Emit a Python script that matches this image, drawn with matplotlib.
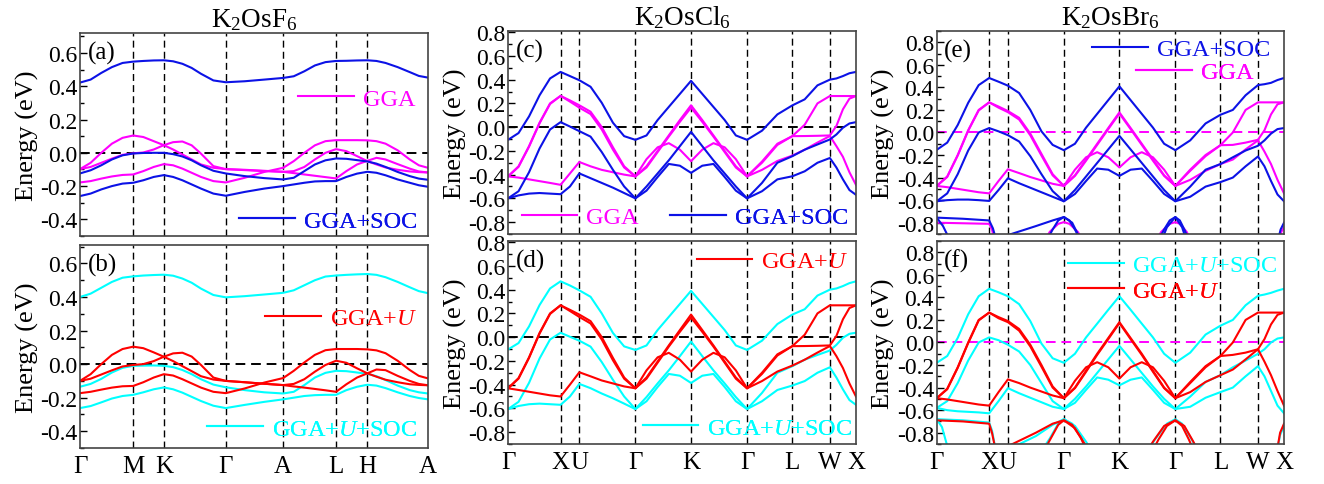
import numpy as np
import matplotlib
matplotlib.use("Agg")
import matplotlib.pyplot as plt
from matplotlib.lines import Line2D
from matplotlib.ticker import MultipleLocator, FormatStrFormatter

plt.rcParams['font.family'] = 'Liberation Serif'
plt.rcParams['mathtext.fontset'] = 'custom'
plt.rcParams['mathtext.rm'] = 'Liberation Serif'
plt.rcParams['mathtext.it'] = 'Liberation Serif:italic'
plt.rcParams['axes.unicode_minus'] = False

# caminos en la zona de Brillouin (posicion de cada punto de alta simetria)
hex_ticks = [0, 0.153, 0.241, 0.419, 0.584, 0.736, 0.826, 1.0]
hex_labels = ['Γ', 'M', 'K', 'Γ', 'A', 'L', 'H', 'A']
fcc_ticks = [0, 0.151, 0.205, 0.366, 0.526, 0.687, 0.817, 0.925, 1.0]
fcc_labels = ['Γ', 'X', 'U', 'Γ', 'K', 'Γ', 'L', 'W', 'X']

# puntos leidos sobre el camino (indice de segmento + fraccion)
s_hex = [0, .2, .4, .6, .8, 1, 1.33, 1.67, 2, 2.15, 2.3, 2.45, 2.6, 2.8, 3,
         3.33, 3.67, 4, 4.2, 4.4, 4.6, 4.8, 5, 5.33, 5.67, 6,
         6.15, 6.3, 6.5, 6.7, 6.85, 7]
s_fcc = [0, .2, .4, .6, .8, 1, 1.5, 2, 2.2, 2.4, 2.6, 2.8, 3,
         3.2, 3.4, 3.6, 3.8, 4, 4.2, 4.4, 4.6, 4.8, 5,
         5.33, 5.67, 6, 6.33, 6.67, 7, 7.25, 7.5, 7.75, 8]

# (a) K2OsF6 GGA+SOC y GGA
a_soc1 = [0.422, 0.44, 0.48, 0.515, 0.54, 0.548, 0.552, 0.555, 0.556, 0.55, 0.535, 0.51, 0.475, 0.435, 0.424,
          0.43, 0.44, 0.45, 0.46, 0.49, 0.525, 0.545, 0.552, 0.553, 0.555, 0.556, 0.552, 0.54, 0.515, 0.485, 0.462, 0.452]
a_soc2 = [-0.124, -0.105, -0.075, -0.04, -0.015, -0.004, -0.001, 0.0, 0.0, -0.008, -0.022, -0.045, -0.075, -0.108, -0.124,
          -0.14, -0.152, -0.16, -0.15, -0.11, -0.07, -0.045, -0.034, -0.036, -0.044, -0.052, -0.065, -0.085, -0.115, -0.14, -0.155, -0.162]
a_soc3 = [-0.26, -0.245, -0.22, -0.2, -0.185, -0.18, -0.165, -0.145, -0.134, -0.145, -0.165, -0.19, -0.215, -0.245, -0.258,
          -0.235, -0.215, -0.2, -0.19, -0.18, -0.172, -0.17, -0.17, -0.145, -0.125, -0.114, -0.12, -0.135, -0.16, -0.18, -0.195, -0.204]
a_gga1 = [-0.098, -0.06, 0.0, 0.055, 0.09, 0.104, 0.095, 0.07, 0.046, 0.02, -0.01, -0.04, -0.07, -0.09, -0.098,
          -0.104, -0.11, -0.114, -0.11, -0.085, -0.04, 0.0, 0.022, 0.01, -0.02, -0.05, -0.07, -0.088, -0.102, -0.112, -0.116, -0.118]
a_gga2 = [-0.098, -0.085, -0.06, -0.035, -0.012, -0.003, 0.002, 0.02, 0.046, 0.064, 0.068, 0.045, -0.005, -0.08, -0.098,
          -0.102, -0.108, -0.114, -0.122, -0.13, -0.138, -0.146, -0.154, -0.11, -0.07, -0.048, -0.03, -0.04, -0.068, -0.095, -0.112, -0.118]
a_gga3 = [-0.178, -0.17, -0.155, -0.142, -0.133, -0.13, -0.11, -0.085, -0.068, -0.075, -0.095, -0.12, -0.145, -0.17, -0.178,
          -0.15, -0.115, -0.09, -0.05, 0.0, 0.045, 0.07, 0.076, 0.076, 0.076, 0.075, 0.07, 0.055, 0.015, -0.04, -0.075, -0.09]

# (b) K2OsF6 GGA+U+SOC y GGA+U
b_soc1 = [0.4, 0.42, 0.455, 0.49, 0.515, 0.523, 0.528, 0.531, 0.533, 0.527, 0.51, 0.485, 0.45, 0.412, 0.398,
          0.405, 0.415, 0.425, 0.44, 0.47, 0.5, 0.522, 0.528, 0.532, 0.535, 0.537, 0.532, 0.518, 0.49, 0.458, 0.435, 0.423]
b_soc2 = [-0.135, -0.118, -0.088, -0.05, -0.022, -0.01, -0.009, -0.008, -0.01, -0.018, -0.035, -0.06, -0.09, -0.122, -0.138,
          -0.155, -0.168, -0.175, -0.165, -0.125, -0.08, -0.052, -0.04, -0.042, -0.05, -0.058, -0.072, -0.095, -0.128, -0.155, -0.168, -0.175]
b_soc3 = [-0.262, -0.25, -0.228, -0.205, -0.19, -0.183, -0.168, -0.15, -0.139, -0.15, -0.17, -0.195, -0.22, -0.248, -0.262,
          -0.243, -0.225, -0.21, -0.2, -0.19, -0.185, -0.183, -0.183, -0.155, -0.135, -0.123, -0.128, -0.143, -0.168, -0.19, -0.202, -0.21]
b_u1 = [-0.1, -0.06, 0.0, 0.055, 0.09, 0.104, 0.095, 0.07, 0.044, 0.018, -0.012, -0.042, -0.072, -0.092, -0.1,
        -0.108, -0.117, -0.125, -0.118, -0.09, -0.045, -0.005, 0.02, 0.008, -0.025, -0.055, -0.075, -0.093, -0.108, -0.12, -0.124, -0.126]
b_u2 = [-0.1, -0.087, -0.062, -0.037, -0.014, -0.005, 0.0, 0.018, 0.044, 0.064, 0.068, 0.045, -0.005, -0.08, -0.1,
        -0.108, -0.117, -0.125, -0.133, -0.14, -0.148, -0.156, -0.165, -0.12, -0.08, -0.055, -0.032, -0.036, -0.07, -0.1, -0.118, -0.126]
b_u3 = [-0.173, -0.165, -0.152, -0.14, -0.132, -0.13, -0.108, -0.08, -0.06, -0.068, -0.09, -0.115, -0.14, -0.165, -0.173,
        -0.145, -0.11, -0.083, -0.04, 0.01, 0.055, 0.083, 0.09, 0.09, 0.09, 0.088, 0.082, 0.065, 0.02, -0.035, -0.07, -0.085]

# (c) K2OsCl6 GGA+SOC y GGA
c_soc1 = [-0.107, -0.05, 0.09, 0.268, 0.41, 0.465, 0.43, 0.395, 0.34, 0.205, 0.037, -0.076, -0.107,
          -0.07, 0.06, 0.17, 0.28, 0.39, 0.28, 0.17, 0.06, -0.07, -0.107,
          -0.03, 0.107, 0.183, 0.234, 0.352, 0.4, 0.41, 0.43, 0.454, 0.465]
c_soc2 = [-0.6, -0.54, -0.38, -0.18, -0.02, 0.042, 0.005, -0.034, -0.08, -0.21, -0.36, -0.5, -0.6,
          -0.5, -0.39, -0.28, -0.16, -0.04, -0.16, -0.28, -0.39, -0.5, -0.6,
          -0.47, -0.3, -0.245, -0.19, -0.146, -0.104, -0.062, -0.005, 0.031, 0.042]
c_soc3 = [-0.6, -0.575, -0.56, -0.555, -0.56, -0.565, -0.5, -0.39, -0.43, -0.47, -0.51, -0.555, -0.6,
          -0.535, -0.42, -0.31, -0.325, -0.385, -0.325, -0.31, -0.42, -0.535, -0.6,
          -0.54, -0.44, -0.414, -0.372, -0.3, -0.26, -0.34, -0.44, -0.53, -0.57]
c_gga1 = [-0.415, -0.33, -0.16, 0.037, 0.2, 0.263, 0.225, 0.184, 0.13, 0.0, -0.17, -0.33, -0.415,
          -0.33, -0.2, -0.07, 0.06, 0.184, 0.06, -0.07, -0.2, -0.33, -0.415,
          -0.29, -0.14, -0.076, 0.02, 0.2, 0.262, 0.262, 0.262, 0.262, 0.262]
c_gga2 = [-0.415, -0.335, -0.165, 0.032, 0.195, 0.263, 0.215, 0.164, 0.11, -0.02, -0.19, -0.34, -0.415,
          -0.34, -0.21, -0.08, 0.045, 0.164, 0.045, -0.08, -0.21, -0.34, -0.415,
          -0.3, -0.15, -0.076, -0.075, -0.073, -0.07, 0.01, 0.15, 0.24, 0.262]
c_gga3 = [-0.415, -0.425, -0.44, -0.455, -0.47, -0.486, -0.39, -0.294, -0.33, -0.36, -0.38, -0.4, -0.415,
          -0.27, -0.17, -0.135, -0.19, -0.287, -0.19, -0.135, -0.17, -0.27, -0.415,
          -0.36, -0.285, -0.24, -0.19, -0.13, -0.075, -0.16, -0.25, -0.38, -0.486]

# (d) K2OsCl6 GGA+U+SOC y GGA+U
d_soc1 = [-0.104, -0.05, 0.09, 0.27, 0.41, 0.47, 0.435, 0.394, 0.34, 0.2, 0.035, -0.078, -0.108,
          -0.07, 0.06, 0.17, 0.28, 0.39, 0.28, 0.17, 0.06, -0.07, -0.108,
          -0.03, 0.11, 0.19, 0.235, 0.35, 0.4, 0.41, 0.43, 0.455, 0.47]
d_soc2 = [-0.606, -0.545, -0.385, -0.18, -0.02, 0.037, 0.003, -0.03, -0.08, -0.21, -0.36, -0.5, -0.606,
          -0.505, -0.39, -0.28, -0.16, -0.037, -0.16, -0.28, -0.39, -0.505, -0.606,
          -0.47, -0.3, -0.245, -0.19, -0.15, -0.113, -0.065, -0.005, 0.028, 0.037]
d_soc3 = [-0.606, -0.58, -0.565, -0.56, -0.565, -0.57, -0.5, -0.394, -0.43, -0.475, -0.515, -0.56, -0.606,
          -0.54, -0.42, -0.31, -0.325, -0.386, -0.325, -0.31, -0.42, -0.54, -0.606,
          -0.54, -0.445, -0.408, -0.37, -0.3, -0.254, -0.34, -0.44, -0.53, -0.57]
d_u1 = [-0.431, -0.345, -0.17, 0.035, 0.2, 0.268, 0.23, 0.19, 0.135, 0.0, -0.175, -0.34, -0.431,
        -0.34, -0.205, -0.07, 0.06, 0.19, 0.06, -0.07, -0.205, -0.34, -0.431,
        -0.3, -0.145, -0.076, 0.02, 0.2, 0.268, 0.268, 0.268, 0.268, 0.268]
d_u2 = [-0.431, -0.35, -0.175, 0.03, 0.195, 0.268, 0.22, 0.17, 0.115, -0.02, -0.195, -0.35, -0.431,
        -0.35, -0.215, -0.08, 0.045, 0.165, 0.045, -0.08, -0.215, -0.35, -0.431,
        -0.31, -0.155, -0.076, -0.075, -0.073, -0.07, 0.01, 0.15, 0.245, 0.268]
d_u3 = [-0.431, -0.445, -0.46, -0.475, -0.49, -0.5, -0.4, -0.296, -0.33, -0.365, -0.39, -0.415, -0.431,
        -0.28, -0.17, -0.132, -0.19, -0.29, -0.19, -0.132, -0.17, -0.28, -0.431,
        -0.37, -0.29, -0.24, -0.19, -0.13, -0.075, -0.16, -0.26, -0.39, -0.5]

# (e) K2OsBr6 GGA+SOC y GGA
e_soc1 = [-0.154, -0.09, 0.066, 0.263, 0.42, 0.483, 0.45, 0.415, 0.35, 0.2, 0.01, -0.11, -0.157,
          -0.1, 0.043, 0.165, 0.287, 0.409, 0.287, 0.165, 0.043, -0.1, -0.157,
          -0.07, 0.08, 0.157, 0.2, 0.33, 0.42, 0.428, 0.44, 0.465, 0.483]
e_soc2 = [-0.61, -0.54, -0.37, -0.16, 0.0, 0.039, 0.01, -0.024, -0.08, -0.21, -0.37, -0.52, -0.61,
          -0.51, -0.39, -0.27, -0.15, -0.03, -0.15, -0.27, -0.39, -0.51, -0.61,
          -0.48, -0.33, -0.28, -0.22, -0.16, -0.118, -0.07, -0.01, 0.03, 0.039]
e_soc3 = [-0.61, -0.6, -0.595, -0.595, -0.6, -0.607, -0.51, -0.406, -0.45, -0.49, -0.53, -0.57, -0.61,
          -0.545, -0.43, -0.32, -0.33, -0.385, -0.33, -0.32, -0.43, -0.545, -0.61,
          -0.57, -0.48, -0.44, -0.4, -0.3, -0.213, -0.3, -0.43, -0.55, -0.61]
e_gga1 = [-0.474, -0.39, -0.2, 0.02, 0.2, 0.267, 0.23, 0.19, 0.13, -0.01, -0.19, -0.37, -0.474,
          -0.38, -0.24, -0.1, 0.04, 0.178, 0.04, -0.1, -0.24, -0.38, -0.474,
          -0.33, -0.2, -0.113, 0.0, 0.2, 0.267, 0.267, 0.267, 0.267, 0.267]
e_gga2 = [-0.474, -0.395, -0.205, 0.015, 0.195, 0.267, 0.22, 0.18, 0.115, -0.025, -0.205, -0.38, -0.474,
          -0.385, -0.25, -0.11, 0.03, 0.168, 0.03, -0.11, -0.25, -0.385, -0.474,
          -0.34, -0.21, -0.113, -0.11, -0.09, -0.065, 0.02, 0.16, 0.25, 0.267]
e_gga3 = [-0.474, -0.485, -0.5, -0.515, -0.53, -0.54, -0.43, -0.326, -0.36, -0.395, -0.425, -0.455, -0.474,
          -0.33, -0.22, -0.175, -0.22, -0.31, -0.22, -0.175, -0.22, -0.33, -0.474,
          -0.42, -0.34, -0.28, -0.24, -0.15, -0.07, -0.17, -0.28, -0.42, -0.54]

# (f) K2OsBr6 GGA+U+SOC y GGA+U
f_soc1 = [-0.18, -0.12, 0.04, 0.25, 0.41, 0.476, 0.445, 0.41, 0.34, 0.19, -0.01, -0.14, -0.18,
          -0.1, 0.045, 0.167, 0.29, 0.41, 0.29, 0.167, 0.045, -0.1, -0.18,
          -0.09, 0.07, 0.149, 0.2, 0.33, 0.414, 0.425, 0.44, 0.46, 0.476]
f_soc2 = [-0.58, -0.52, -0.36, -0.16, 0.0, 0.045, 0.02, -0.02, -0.08, -0.2, -0.36, -0.52, -0.59,
          -0.5, -0.39, -0.27, -0.15, -0.03, -0.15, -0.27, -0.39, -0.5, -0.59,
          -0.48, -0.35, -0.29, -0.22, -0.16, -0.1, -0.06, 0.0, 0.035, 0.045]
f_soc3 = [-0.58, -0.6, -0.61, -0.615, -0.62, -0.628, -0.52, -0.405, -0.45, -0.49, -0.53, -0.57, -0.59,
          -0.535, -0.42, -0.31, -0.33, -0.38, -0.33, -0.31, -0.42, -0.535, -0.59,
          -0.57, -0.49, -0.44, -0.4, -0.3, -0.21, -0.3, -0.43, -0.56, -0.628]
f_u1 = [-0.494, -0.41, -0.22, 0.0, 0.2, 0.265, 0.225, 0.19, 0.12, -0.02, -0.2, -0.39, -0.494,
        -0.4, -0.25, -0.1, 0.04, 0.18, 0.04, -0.1, -0.25, -0.4, -0.494,
        -0.35, -0.21, -0.12, 0.0, 0.2, 0.265, 0.265, 0.265, 0.265, 0.265]
f_u2 = [-0.494, -0.415, -0.225, -0.005, 0.195, 0.265, 0.215, 0.18, 0.105, -0.035, -0.215, -0.4, -0.494,
        -0.405, -0.26, -0.11, 0.03, 0.172, 0.03, -0.11, -0.26, -0.405, -0.494,
        -0.36, -0.22, -0.12, -0.11, -0.09, -0.06, 0.03, 0.16, 0.245, 0.265]
f_u3 = [-0.494, -0.505, -0.52, -0.535, -0.55, -0.56, -0.44, -0.327, -0.36, -0.4, -0.435, -0.47, -0.494,
        -0.34, -0.22, -0.175, -0.22, -0.32, -0.22, -0.175, -0.22, -0.34, -0.494,
        -0.44, -0.35, -0.29, -0.24, -0.15, -0.06, -0.17, -0.29, -0.43, -0.56]

# bandas bajas de K2OsBr6 (solo se ve el borde superior), (s, E)
e_low_soc = [([0, 0.5, 1.0, 1.2, 1.45], [-0.755, -0.765, -0.78, -0.85, -1.0]),
             ([0, 0.12, 0.3], [-0.755, -0.83, -1.0]),
             ([2.0, 2.5, 2.8, 3.0, 3.1, 3.2, 3.35], [-0.91, -0.83, -0.78, -0.75, -0.78, -0.86, -1.0]),
             ([2.65, 2.8, 2.9, 3.0, 3.15, 3.3], [-1.0, -0.86, -0.78, -0.75, -0.8, -0.95]),
             ([4.65, 4.8, 4.9, 5.0, 5.1, 5.2, 5.35], [-1.0, -0.86, -0.78, -0.75, -0.78, -0.86, -1.0]),
             ([4.72, 4.85, 5.0, 5.15, 5.28], [-1.0, -0.84, -0.75, -0.84, -1.0]),
             ([7.72, 7.87, 8.0], [-1.0, -0.86, -0.8])]
e_low_gga = [([0, 0.5, 1.0, 1.15, 1.35], [-0.8, -0.805, -0.81, -0.86, -1.0]),
             ([2.6, 2.75, 2.9, 3.0, 3.1, 3.25, 3.4], [-1.0, -0.88, -0.81, -0.795, -0.81, -0.88, -1.0]),
             ([4.6, 4.75, 4.9, 5.0, 5.1, 5.25, 5.4], [-1.0, -0.88, -0.81, -0.795, -0.81, -0.88, -1.0]),
             ([7.75, 7.9, 8.0], [-1.0, -0.88, -0.84])]
f_low_soc = [([0, 0.5, 1.0, 1.15, 1.4], [-0.68, -0.69, -0.71, -0.78, -1.0]),
             ([0, 0.1, 0.25], [-0.68, -0.75, -1.0]),
             ([2.0, 2.5, 2.8, 3.0, 3.15, 3.3, 3.45], [-0.95, -0.83, -0.73, -0.68, -0.72, -0.82, -1.0]),
             ([2.55, 2.75, 2.9, 3.0, 3.2, 3.4, 3.55], [-1.0, -0.85, -0.72, -0.68, -0.74, -0.88, -1.0]),
             ([4.45, 4.65, 4.85, 5.0, 5.15, 5.35, 5.55], [-1.0, -0.85, -0.72, -0.68, -0.72, -0.85, -1.0]),
             ([7.7, 7.85, 8.0], [-1.0, -0.82, -0.74])]
f_low_u = [([0, 0.5, 1.0, 1.15, 1.4], [-0.69, -0.7, -0.72, -0.8, -1.0]),
           ([2.0, 2.5, 2.8, 3.0, 3.15, 3.3, 3.45], [-0.92, -0.8, -0.72, -0.69, -0.73, -0.84, -1.0]),
           ([2.6, 2.8, 2.9, 3.0, 3.2, 3.35, 3.5], [-1.0, -0.82, -0.73, -0.69, -0.76, -0.88, -1.0]),
           ([4.45, 4.6, 4.8, 5.0, 5.2, 5.4, 5.55], [-1.0, -0.88, -0.74, -0.69, -0.74, -0.88, -1.0]),
           ([4.55, 4.7, 4.85, 5.0, 5.15, 5.3, 5.45], [-1.0, -0.86, -0.74, -0.69, -0.74, -0.86, -1.0]),
           ([7.7, 7.85, 8.0], [-1.0, -0.8, -0.72])]

azul, rosa, rojo, cian = '#0c12e6', '#ff00ff', '#ff0000', '#00ffff'


def kdist(s, ticks):
    # pasa de indice de segmento a distancia sobre el camino
    return np.interp(s, np.arange(len(ticks)), ticks)


def bandas(ax, s, lista, ticks, color):
    for e in lista:
        ax.plot(kdist(s, ticks), e, color=color, lw=1.5)


def bajas(ax, lista, ticks, color):
    for s, e in lista:
        ax.plot(kdist(s, ticks), e, color=color, lw=1.5)


def ejes(ax, ticks, labels, ylim, color0, etiqueta, abajo):
    for t in ticks[1:-1]:
        ax.axvline(t, color='k', ls=(0, (5, 3)), lw=1.0, zorder=0)
    ax.axhline(0, color=color0, ls=(0, (5, 3)), lw=1.4, zorder=0)
    ax.set_xlim(0, 1)
    ax.set_ylim(*ylim)
    ax.set_xticks(ticks)
    ax.set_xticklabels(labels if abajo else [])
    ax.tick_params(axis='x', length=0, labelsize=18, pad=5)
    ax.yaxis.set_major_locator(MultipleLocator(0.2))
    ax.yaxis.set_minor_locator(MultipleLocator(0.1))
    ax.yaxis.set_major_formatter(FormatStrFormatter('%.1f'))
    ax.tick_params(axis='y', which='major', direction='in', length=5, width=1, labelsize=17, pad=2)
    ax.tick_params(axis='y', which='minor', direction='in', length=3, width=1)
    ax.set_ylabel('Energy (eV)', fontsize=19, labelpad=1)
    for sp in ax.spines.values():
        sp.set_color('#444444')
        sp.set_linewidth(1.2)
    ax.text(0.022, 0.905, etiqueta, transform=ax.transAxes, fontsize=18, va='center', ha='left')


def leyenda(ax, color, texto, loc, x, y):
    h = Line2D([], [], color=color, lw=1.5)
    leg = ax.legend([h], [texto], loc=loc, bbox_to_anchor=(x, y), frameon=False,
                    fontsize=17.5, handlelength=2.3, handletextpad=0.35,
                    borderpad=0, borderaxespad=0, labelcolor=color)
    ax.add_artist(leg)


fig = plt.figure(figsize=(13.24, 4.85), dpi=100)
ax_a = fig.add_axes([0.0604, 0.5113, 0.2628, 0.4186])
ax_b = fig.add_axes([0.0604, 0.0742, 0.2628, 0.4186])
ax_c = fig.add_axes([0.3837, 0.5155, 0.2628, 0.4186])
ax_d = fig.add_axes([0.3837, 0.0825, 0.2628, 0.4186])
ax_e = fig.add_axes([0.7075, 0.5155, 0.2623, 0.4186])
ax_f = fig.add_axes([0.7075, 0.0825, 0.2623, 0.4186])

# K2OsF6
ejes(ax_a, hex_ticks, hex_labels, (-0.5, 0.72), 'k', '(a)', False)
bandas(ax_a, s_hex, [a_gga1, a_gga2, a_gga3], hex_ticks, rosa)
bandas(ax_a, s_hex, [a_soc1, a_soc2, a_soc3], hex_ticks, azul)
ax_a.set_title('K$_2$OsF$_6$', fontsize=19.5, pad=5)
leyenda(ax_a, rosa, 'GGA', 'center right', 0.963, 0.675)
leyenda(ax_a, azul, 'GGA+SOC', 'center right', 0.968, 0.074)

ejes(ax_b, hex_ticks, hex_labels, (-0.5, 0.71), 'k', '(b)', True)
bandas(ax_b, s_hex, [b_soc1, b_soc2, b_soc3], hex_ticks, cian)
bandas(ax_b, s_hex, [b_u1, b_u2, b_u3], hex_ticks, rojo)
leyenda(ax_b, rojo, 'GGA+$U$', 'center right', 0.968, 0.639)
leyenda(ax_b, cian, 'GGA+$U$+SOC', 'center right', 0.968, 0.094)

# K2OsCl6
ejes(ax_c, fcc_ticks, fcc_labels, (-0.9, 0.81), 'k', '(c)', False)
bandas(ax_c, s_fcc, [c_gga1, c_gga2, c_gga3], fcc_ticks, rosa)
bandas(ax_c, s_fcc, [c_soc1, c_soc2, c_soc3], fcc_ticks, azul)
ax_c.set_title('K$_2$OsCl$_6$', fontsize=19.5, pad=5)
leyenda(ax_c, rosa, 'GGA', 'center left', 0.039, 0.082)
leyenda(ax_c, azul, 'GGA+SOC', 'center left', 0.466, 0.082)

ejes(ax_d, fcc_ticks, fcc_labels, (-0.9, 0.81), 'k', '(d)', True)
bandas(ax_d, s_fcc, [d_soc1, d_soc2, d_soc3], fcc_ticks, cian)
bandas(ax_d, s_fcc, [d_u1, d_u2, d_u3], fcc_ticks, rojo)
leyenda(ax_d, rojo, 'GGA+$U$', 'center right', 0.977, 0.9)
leyenda(ax_d, cian, 'GGA+$U$+SOC', 'center right', 0.989, 0.079)

# K2OsBr6
ejes(ax_e, fcc_ticks, fcc_labels, (-0.9, 0.9), rosa, '(e)', False)
bandas(ax_e, s_fcc, [e_gga1, e_gga2, e_gga3], fcc_ticks, rosa)
bajas(ax_e, e_low_gga, fcc_ticks, rosa)
bandas(ax_e, s_fcc, [e_soc1, e_soc2, e_soc3], fcc_ticks, azul)
bajas(ax_e, e_low_soc, fcc_ticks, azul)
ax_e.set_title('K$_2$OsBr$_6$', fontsize=19.5, pad=5)
leyenda(ax_e, azul, 'GGA+SOC', 'center right', 0.96, 0.911)
leyenda(ax_e, rosa, 'GGA', 'center right', 0.911, 0.797)

ejes(ax_f, fcc_ticks, fcc_labels, (-0.9, 0.9), rosa, '(f)', True)
bandas(ax_f, s_fcc, [f_soc1, f_soc2, f_soc3], fcc_ticks, cian)
bajas(ax_f, f_low_soc, fcc_ticks, cian)
bandas(ax_f, s_fcc, [f_u1, f_u2, f_u3], fcc_ticks, rojo)
bajas(ax_f, f_low_u, fcc_ticks, rojo)
leyenda(ax_f, cian, 'GGA+$U$+SOC', 'center left', 0.378, 0.881)
leyenda(ax_f, rojo, 'GGA+$U$', 'center left', 0.378, 0.755)

fig.savefig('out.png', dpi=100)
